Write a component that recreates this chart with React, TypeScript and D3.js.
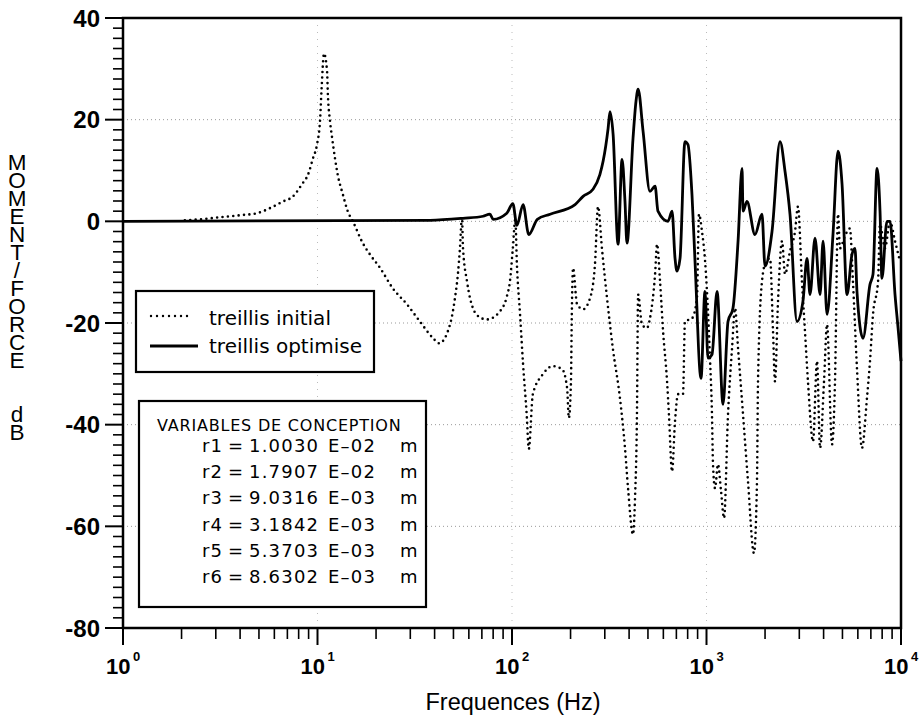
import React from "react";
import * as d3 from "d3";

// ---- data (frequency Hz, dB) ----
const INITIAL: [number, number][] = [
  [2.08, 0.2], [2.49, 0.4], [3.15, 0.8], [4.0, 1.2], [4.89, 1.6], [5.7, 2.6], [6.65, 3.9], [7.48, 4.9],
  [8.32, 7.3], [8.94, 9.2], [9.48, 12.4], [9.94, 15.1], [10.3, 19.7], [10.5, 26.2], [10.8, 33.0],
  [11.2, 29.5], [11.3, 25.2], [11.6, 19.7], [11.9, 16.3], [12.3, 12.4], [12.7, 9.2], [13.5, 5.3],
  [14.3, 2.0], [15.2, 0], [17.1, -4.3], [18.6, -6.5], [21.0, -9.2], [24.4, -13.2], [28.8, -16.3],
  [33.6, -19.7], [39.3, -23.0], [42.2, -24.0], [48.0, -20.3], [50.9, -15.1], [52.7, -10.4], [54.0, -5.3],
  [55.3, 0.8], [56.0, -5.3], [58.7, -11.8], [63.0, -17.1], [68.4, -18.9], [74.3, -19.3], [86.7, -17.7],
  [94.2, -14.7], [97.6, -11.8], [101, -5.3], [104, 0.4], [106, -8.5], [110, -18.3], [114, -28.1],
  [119, -38.0], [122, -44.8], [128, -34.0], [144, -30.1], [162, -28.5], [181, -29.1], [192, -32.8],
  [196, -38.7], [201, -31.5], [203, -18.3], [206, -9.2], [216, -16.3], [232, -17.3], [252, -15.1],
  [267, -8.5], [277, 2.9], [290, -5.3], [308, -15.1], [330, -25.0], [359, -34.8], [381, -44.6],
  [395, -52.5], [419, -61.6], [429, -54.5], [439, -38.0], [445, -14.4], [466, -20.3], [494, -21.0],
  [512, -19.1], [544, -10.4], [557, -4.5], [577, -11.8], [598, -21.6], [627, -31.5], [641, -38.0],
  [665, -49.2], [689, -39.3], [714, -34.0], [757, -34.0], [775, -19.7], [842, -19.1], [893, -15.1],
  [915, 1.4], [948, -2.0], [982, -7.5], [1042, -26.9], [1067, -38.0], [1080, -47.8], [1106, -52.5],
  [1146, -47.8], [1188, -53.1], [1231, -58.4], [1290, -38.0], [1353, -25.0], [1402, -17.1],
  [1453, -25.0], [1541, -38.0], [1634, -51.1], [1754, -65.3], [1818, -51.1], [1840, -31.5],
  [1929, -11.8], [2023, -7.9], [2122, -7.3], [2198, -21.6], [2250, -31.5], [2332, -15.7],
  [2445, -3.9], [2534, -10.4], [2687, -5.9], [2851, -2.0], [2953, 2.9], [3096, -11.8], [3208, -21.6],
  [3324, -31.5], [3529, -43.3], [3700, -27.5], [3836, -44.6], [4020, -31.5], [4166, -20.3],
  [4419, -43.9], [4578, -31.5], [4745, 1.4], [4857, -5.3], [5148, -2.9], [5462, -1.4], [5661, -11.8],
  [5938, -28.9], [6300, -44.6], [6683, -34.8], [6928, -27.5], [7180, -18.3], [7621, -11.8],
  [7800, -0.6], [8275, -5.3], [8780, 0], [9316, -3.9], [9885, -7.9],
];

const OPTIMISE: [number, number][] = [
  [1, 0], [37.9, 0.2], [56, 0.6], [71, 1.0], [77, 1.4], [80, 0.4], [94, 1.6], [101, 3.5], [106, -0.8],
  [114, 3.3], [122, -2.6], [135, 0.4], [157, 1.4], [211, 3.3], [232, 4.9], [261, 6.3], [283, 9.2],
  [294, 11.8], [312, 18.3], [319, 21.6], [331, 17.1], [351, -4.5], [368, 12.2], [381, 3.9], [390, -4.3],
  [419, 16.3], [434, 23.6], [445, 26.0], [472, 17.7], [512, 5.9], [544, 6.9], [563, 2.0], [634, 0],
  [665, 2.0], [689, -7.3], [705, -9.8], [731, -7.3], [775, 15.7], [803, 15.1], [842, 5.3], [873, -7.9],
  [937, -30.9], [982, -13.8], [1018, -26.9], [1067, -26.2], [1133, -13.8], [1216, -36.0], [1290, -19.7],
  [1368, -17.1], [1453, -3.9], [1523, 10.4], [1541, 2.0], [1615, 3.9], [1775, -2.6], [1929, 1.4],
  [1999, -8.8], [2172, -2.0], [2388, 15.7], [2534, 9.8], [2687, 1.4], [2919, -19.7], [3133, -15.7],
  [3288, -7.3], [3406, -14.4], [3613, -3.3], [3836, -14.4], [3975, -3.9], [4166, -18.3], [4470, -2.6],
  [4745, 13.8], [4977, 7.3], [5278, -14.4], [5598, -6.5], [5800, -5.3], [5938, -13.8], [6378, -23.0],
  [6928, -12.4], [7180, -10.4], [7530, 10.4], [7800, 2.0], [7980, -11.2], [8470, 0], [8780, 0],
  [9316, -14.4], [9660, -21.0], [10000, -27.5],
];

const Y_TICKS = [40, 20, 0, -20, -40, -60, -80];
const Y_GRID = [20, 0, -20, -40, -60];
const X_DECADES = [0, 1, 2, 3, 4];
const X_GRID = [10, 100, 1000];
const LEGEND_LABELS = ["treillis initial", "treillis optimise"];
const VAR_TITLE = "VARIABLES DE CONCEPTION";
const VARIABLES: [string, string, string][] = [
  ["r1", "1.0030", "E\u201302"],
  ["r2", "1.7907", "E\u201302"],
  ["r3", "9.0316", "E\u201303"],
  ["r4", "3.1842", "E\u201303"],
  ["r5", "5.3703", "E\u201303"],
  ["r6", "8.6302", "E\u201303"],
];
const Y_TITLE = "MOMENT/FORCE\u00a0\u00a0dB";
const X_TITLE = "Frequences (Hz)";

const W = 921;
const H = 717;
const L = 123, R = 901, T = 18, B = 628;

export default function App() {
  const x = d3.scaleLog().domain([1, 1e4]).range([L, R]);
  const y = d3.scaleLinear().domain([-80, 40]).range([B, T]);
  const line = d3
    .line<[number, number]>()
    .x((d) => x(d[0]))
    .y((d) => y(d[1]))
    .curve(d3.curveMonotoneX);

  const minorY: number[] = d3.range(-80, 41, 2).filter((v) => v % 20 !== 0);
  const minorX: number[] = [];
  for (let k = 0; k < 4; k++) for (let m = 2; m <= 9; m++) minorX.push(m * Math.pow(10, k));

  const tickFont = "'Liberation Sans', Arial, sans-serif";
  const legFont = "'DejaVu Sans', sans-serif";

  return (
    <svg width={W} height={H} style={{ position: "absolute", left: 0, top: 0, background: "#fff" }}>
      <rect x={0} y={0} width={W} height={H} fill="#fff" />
      {/* faint grid */}
      {Y_GRID.map((v) => (
        <line key={"gy" + v} x1={L} x2={R} y1={y(v)} y2={y(v)} stroke="#999" strokeWidth={1} strokeDasharray="1 3" />
      ))}
      {X_GRID.map((v) => (
        <line key={"gx" + v} x1={x(v)} x2={x(v)} y1={T} y2={B} stroke="#bbb" strokeWidth={1} strokeDasharray="1 6" />
      ))}

      {/* curves */}
      <path d={line(INITIAL) || ""} fill="none" stroke="#000" strokeWidth={2.6} strokeLinecap="round" strokeDasharray="0 5.4" />
      <path d={line(OPTIMISE) || ""} fill="none" stroke="#000" strokeWidth={2.8} strokeLinejoin="round" />

      {/* frame */}
      <rect x={L} y={T} width={R - L} height={B - T} fill="none" stroke="#000" strokeWidth={2.5} />

      {/* y ticks */}
      {Y_TICKS.map((v) => (
        <g key={"yt" + v}>
          <line x1={105} x2={L} y1={y(v)} y2={y(v)} stroke="#000" strokeWidth={2} />
          <text x={100} y={y(v) + 8.5} textAnchor="end" fontFamily={tickFont} fontWeight="bold" fontSize={24}>
            {String(v)}
          </text>
        </g>
      ))}
      {minorY.map((v) => (
        <line key={"my" + v} x1={113} x2={L} y1={y(v)} y2={y(v)} stroke="#000" strokeWidth={1.6} />
      ))}

      {/* x ticks */}
      {X_DECADES.map((k) => {
        const xv = x(Math.pow(10, k));
        return (
          <g key={"xt" + k}>
            <line x1={xv} x2={xv} y1={B} y2={645} stroke="#000" strokeWidth={2} />
            <text x={xv - 17} y={674} fontFamily={tickFont} fontWeight="bold" fontSize={22}>
              10
            </text>
            <text x={xv + 10} y={661} fontFamily={tickFont} fontWeight="bold" fontSize={13}>
              {String(k)}
            </text>
          </g>
        );
      })}
      {minorX.map((v) => (
        <line key={"mx" + v} x1={x(v)} x2={x(v)} y1={B} y2={639} stroke="#000" strokeWidth={1.6} />
      ))}

      {/* axis titles */}
      <text x={513} y={710} textAnchor="middle" fontFamily={tickFont} fontSize={23.5}>
        {X_TITLE}
      </text>
      <text
        x={17}
        y={150}
        fontFamily={tickFont}
        fontSize={22.5}
        letterSpacing={-7}
        style={{ writingMode: "vertical-rl", textOrientation: "upright" } as any}
      >
        {Y_TITLE}
      </text>

      {/* legend 1 */}
      <rect x={136} y={291} width={238} height={81} fill="#fff" stroke="#000" strokeWidth={2.2} />
      <line x1={151} x2={193} y1={316} y2={316} stroke="#000" strokeWidth={2.4} strokeLinecap="round" strokeDasharray="0 6" />
      <line x1={150} x2={198} y1={346} y2={346} stroke="#000" strokeWidth={3} />
      {LEGEND_LABELS.map((t, i) => (
        <text key={"lg" + i} x={209} y={325 + i * 28} fontFamily={legFont} fontSize={20}>
          {t}
        </text>
      ))}

      {/* legend 2 */}
      <rect x={139} y={401} width={287} height={206} fill="#fff" stroke="#000" strokeWidth={2.2} />
      <text x={157} y={431} fontFamily={legFont} fontSize={16} letterSpacing={0.8}>
        {VAR_TITLE}
      </text>
      {VARIABLES.map((r, i) => {
        const by = 452 + i * 26.2;
        return (
          <text key={"v" + i} y={by} fontFamily={legFont} fontSize={18} letterSpacing={1.2}>
            <tspan x={202}>{r[0]}</tspan>
            <tspan x={228}>=</tspan>
            <tspan x={249}>{r[1]}</tspan>
            <tspan x={328}>{r[2]}</tspan>
            <tspan x={400}>m</tspan>
          </text>
        );
      })}
    </svg>
  );
}
